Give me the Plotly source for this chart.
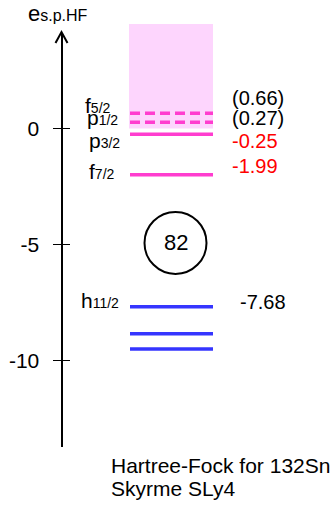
import plotly.graph_objects as go

# Neutron single-particle levels of 132Sn (Hartree-Fock, Skyrme SLy4), in MeV
level_orbits = ["f", "p", "p", "f", "h", "", ""]
level_j = ["5/2", "1/2", "3/2", "7/2", "11/2", "", ""]
level_energies = [0.66, 0.27, -0.25, -1.99, -7.68, -8.85, -9.50]
show_value = [True, True, True, True, True, False, False]

tick_values = [-10, -5, 0]
tick_labels = ["-10", "-5", "0"]

magic_number = "82"
magic_energy = -4.93
continuum_top = 4.5

title_lines = ["Hartree-Fock for 132Sn", "Skyrme SLy4"]

# ---- geometry helpers (figure is laid out in pixel units horizontally) ----
W, H = 333, 505
PX0, SCALE = 128.5, 23.2          # pixel row of E=0, pixels per MeV
AX_TOP, AX_BOT, AX_X = 33, 447, 61.5
LINE_X0, LINE_X1 = 130, 213


def px_to_e(px):
    return (PX0 - px) / SCALE


def e_to_px(e):
    return PX0 - SCALE * e


def px_to_paper(px):
    return (H - px) / H


PINK = "#FF3DCF"
BLUE = "#3535FF"
SHADE = "#FDD5FD"
FONT = "Liberation Sans, Arial, sans-serif"

fig = go.Figure()

for e in level_energies:
    if e > 0:
        color, dash = PINK, "10px,5px"
    elif e > -3:
        color, dash = PINK, "solid"
    else:
        color, dash = BLUE, "solid"
    fig.add_trace(go.Scatter(
        x=[LINE_X0, LINE_X1], y=[e, e], mode="lines",
        line=dict(color=color, width=3.5, dash=dash),
        hoverinfo="skip", showlegend=False,
    ))

# empty trace so the right-hand half of the tick marks is drawn
fig.add_trace(go.Scatter(x=[], y=[], yaxis="y2", showlegend=False, hoverinfo="skip"))

# continuum region above E = 0
fig.add_shape(type="rect", xref="x", yref="paper",
              x0=LINE_X0 - 1, x1=LINE_X1,
              y0=px_to_paper(e_to_px(0)), y1=px_to_paper(e_to_px(continuum_top)),
              fillcolor=SHADE, line=dict(width=0), layer="below")

# arrow head on the energy axis
fig.add_shape(type="path", xref="x", yref="paper",
              path=f"M {AX_X - 6},{px_to_paper(AX_TOP + 10)} L {AX_X},{px_to_paper(AX_TOP - 1)} "
                   f"L {AX_X + 6},{px_to_paper(AX_TOP + 10)}",
              line=dict(color="black", width=2))

# shell gap marker
r = 31 / SCALE
fig.add_shape(type="circle", xref="x", yref="y",
              x0=175.5 - 31, x1=175.5 + 31,
              y0=magic_energy - r, y1=magic_energy + r,
              line=dict(color="black", width=2))
fig.add_annotation(x=175.5, y=magic_energy, xref="x", yref="y", text=magic_number,
                   showarrow=False, font=dict(size=22, color="black", family=FONT))

# level names and energies
name_x = [83, 85, 87, 87, 79, 0, 0]
name_shift = [8, 5, -6, 3.5, 6, 0, 0]
value_shift = [15, 4, -7, 9, 5, 0, 0]
for i, (orb, j, e, sv) in enumerate(zip(level_orbits, level_j, level_energies, show_value)):
    if orb:
        fig.add_annotation(x=name_x[i], y=e, xref="x", yref="y",
                           text=f'{orb}<span style="font-size:14px">{j}</span>',
                           xanchor="left", yanchor="middle", yshift=name_shift[i],
                           showarrow=False,
                           font=dict(size=21, color="black", family=FONT))
    if sv:
        txt = f"({e:.2f})" if e > 0 else f"{e:.2f}"
        col = "red" if -3 < e < 0 else "black"
        xv = 230 if e > -3 else 238
        fig.add_annotation(x=xv, y=e, xref="x", yref="y", text=txt,
                           xanchor="left", yanchor="middle", yshift=value_shift[i],
                           showarrow=False,
                           font=dict(size=20, color=col, family=FONT))

# axis title
fig.add_annotation(x=26, y=px_to_paper(13), xref="x", yref="paper",
                   text='e<span style="font-size:16px">s.p.HF</span>',
                   xanchor="left", yanchor="middle",
                   showarrow=False, font=dict(size=22, color="black", family=FONT))

# caption
for k, line in enumerate(title_lines):
    fig.add_annotation(x=109, y=px_to_paper(465 + 23 * k), xref="x", yref="paper",
                       text=line, xanchor="left", yanchor="middle", showarrow=False,
                       font=dict(size=21, color="black", family=FONT))

y_range = [px_to_e(AX_BOT), px_to_e(AX_TOP)]
y_domain = [px_to_paper(AX_BOT), px_to_paper(AX_TOP)]

fig.update_layout(
    width=W, height=H,
    margin=dict(l=0, r=0, t=0, b=0),
    paper_bgcolor="white", plot_bgcolor="white",
    showlegend=False,
    xaxis=dict(range=[0, W], domain=[0, 1], visible=False, fixedrange=True),
    yaxis=dict(range=y_range, domain=y_domain, anchor="free", position=AX_X / W,
               showline=True, linecolor="black", linewidth=2,
               ticks="outside", ticklen=8, tickwidth=1.3, tickcolor="black",
               tickvals=tick_values, ticktext=tick_labels,
               tickfont=dict(size=21, color="black", family=FONT),
               ticklabelstandoff=9,
               showgrid=False, zeroline=False, fixedrange=True),
    yaxis2=dict(range=y_range, overlaying="y", anchor="free", position=AX_X / W,
                side="right", showline=False,
                ticks="outside", ticklen=7, tickwidth=1.3, tickcolor="black",
                tickvals=tick_values, showticklabels=False,
                showgrid=False, zeroline=False, fixedrange=True),
)

fig.write_html("out.html")
